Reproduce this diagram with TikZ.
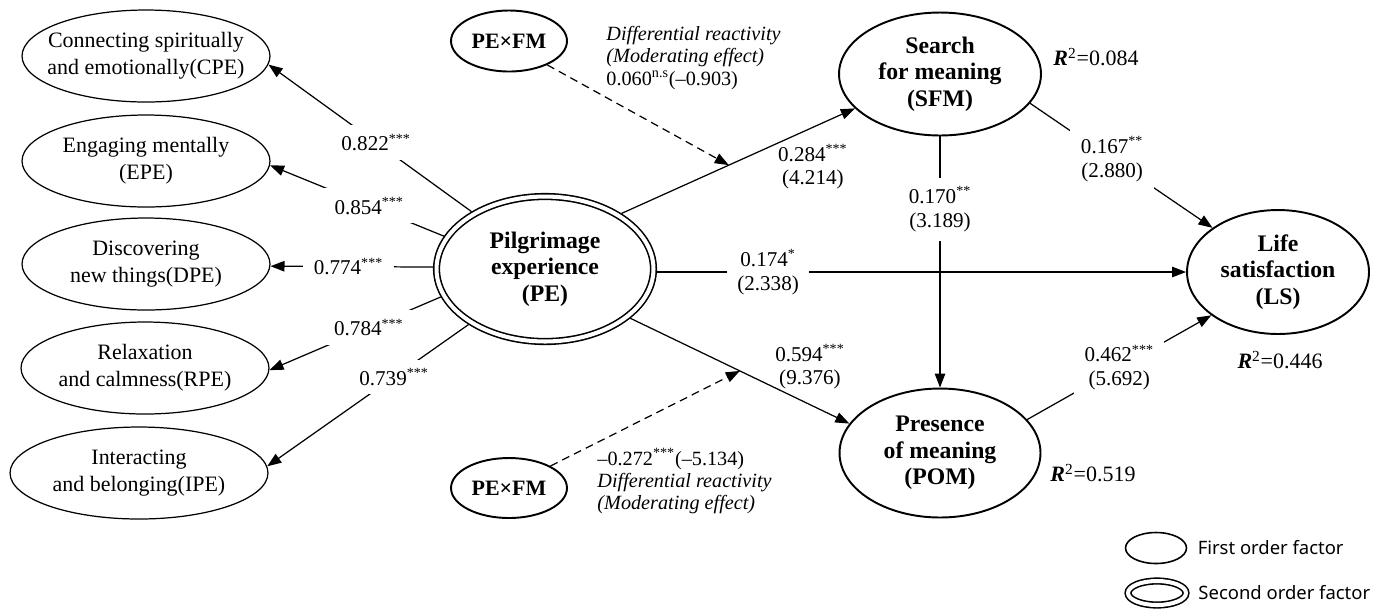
\documentclass[tikz,border=0pt]{standalone}
\usepackage{fontspec}
\setmainfont{Liberation Serif}
\newfontfamily\legendfont{Noto Sans}
\usetikzlibrary{shapes.geometric, arrows.meta, positioning}

\begin{document}
\begin{tikzpicture}[
    x=0.02cm, y=-0.02cm,
    >={Triangle[length=8pt, width=6pt]},
    line width=0.7pt,
    first/.style={draw, ellipse, inner sep=0pt, minimum height=1.84cm},
    latent/.style={draw, ellipse, line width=1.1pt, inner sep=0pt},
    second/.style={draw, ellipse, double, line width=0.9pt, double distance=2.3pt, inner sep=0pt, outer sep=2pt},
    ftxt/.style={align=center, font=\fontsize{12.5}{15.4}\selectfont},
    btxt/.style={align=center, font=\fontsize{13.5}{15}\selectfont\bfseries},
    coef/.style={fill=white, align=center, inner xsep=6pt, inner ysep=5pt, font=\fontsize{12}{13.5}\selectfont},
    est/.style={align=center, font=\fontsize{12}{13.5}\selectfont},
    note/.style={align=left, font=\fontsize{11.5}{12.6}\selectfont},
    mod/.style={->, dash pattern=on 4.5pt off 3pt},
    legtxt/.style={font=\legendfont\fontsize{10.5}{12}\selectfont}
]
    \useasboundingbox (0,0) rectangle (1378,610);

    % First order factors
    \foreach \name/\xpos/\ypos/\ew/\txt in {
        cpe/146/56/4.96/{Connecting spiritually\\and emotionally(CPE)},
        epe/146/161/4.96/{Engaging mentally\\(EPE)},
        dpe/146/264/4.96/{Discovering\\new things(DPE)},
        rpe/145/368/4.96/{Relaxation\\and calmness(RPE)},
        ipe/139/473/5.16/{Interacting\\and belonging(IPE)}} {
        \node[first, minimum width=\ew cm, label={[ftxt]center:\txt}] (\name) at (\xpos,\ypos) {};
    }

    % Second order factor
    \node[second, minimum width=4.34cm, minimum height=2.9cm,
          label={[btxt]center:Pilgrimage\\experience\\(PE)}] (pe) at (545,269) {};

    % Outcome factors
    \node[latent, minimum width=4.04cm, minimum height=2.46cm,
          label={[btxt]center:Search\\for meaning\\(SFM)}] (sfm) at (940,74) {};
    \node[latent, minimum width=4.02cm, minimum height=2.58cm,
          label={[btxt]center:Presence\\of meaning\\(POM)}] (pom) at (940,453) {};
    \node[latent, minimum width=3.64cm, minimum height=2.48cm,
          label={[btxt]center:Life\\satisfaction\\(LS)}] (ls) at (1278,272) {};

    % Interaction terms
    \node[latent, btxt, font=\fontsize{12.5}{15}\selectfont\bfseries, minimum width=2.32cm, minimum height=1.22cm] (fmt) at (509,41) {PE×FM};
    \node[latent, btxt, font=\fontsize{12.5}{15}\selectfont\bfseries, minimum width=2.32cm, minimum height=1.2cm] (fmb) at (509,488) {PE×FM};

    % Loadings
    \foreach \name/\ang/\tip/\val/\p in {cpe/142/-4/0.822/0.47, epe/162/-2/0.854/0.43,
        dpe/179/-1/0.774/0.52, rpe/195/-1/0.784/0.42, ipe/216/3/0.739/0.37} {
        \draw[->] (pe.\ang) -- node[coef, pos=\p] {\val\textsuperscript{***}} (\name.\tip);
    }

    % Structural paths
    \draw[->] (pe.36) -- coordinate[pos=0.46] (mod1)
        node[est, pos=0.82, below=6pt] {0.284\textsuperscript{***}\\(4.214)} (sfm.202);
    \draw[->] (pe.-30) -- coordinate[pos=0.5] (mod2)
        node[est, pos=0.82, above=5pt] {0.594\textsuperscript{***}\\(9.376)} (pom.162);
    \draw[->] (pe.east |- ls.west) -- node[coef, pos=0.21] {0.174\textsuperscript{*}\\(2.338)} (ls.west);
    \draw[->] (sfm.south) -- node[coef, pos=0.29] {0.170\textsuperscript{**}\\(3.189)} (pom.north);
    \draw[->] (sfm.-18) -- node[coef, pos=0.45] {0.167\textsuperscript{**}\\(2.880)} (ls.146);
    \draw[->] (pom.21) -- node[coef, pos=0.5] {0.462\textsuperscript{***}\\(5.692)} (ls.213);

    % Moderating effects
    \draw[mod] (fmt.-32) -- (mod1);
    \draw[mod] (fmb.28) -- (mod2);
    \node[note, anchor=west] (note1) at (600,58)
        {\textit{Differential reactivity}\\\textit{(Moderating effect)}\\0.060\textsuperscript{n.s}(--0.903)};
    \node[note, anchor=west] (note2) at (591,481)
        {--0.272\textsuperscript{***}(--5.134)\\\textit{Differential reactivity}\\\textit{(Moderating effect)}};

    % R squared
    \node[ftxt, anchor=west] (r2sfm) at (1047,57) {\textbf{\textit{R}}\textsuperscript{2}=0.084};
    \node[ftxt] (r2ls) at (1280,360) {\textbf{\textit{R}}\textsuperscript{2}=0.446};
    \node[ftxt, anchor=west] (r2pom) at (1044,473) {\textbf{\textit{R}}\textsuperscript{2}=0.519};

    % Legend
    \node[draw, ellipse, line width=0.9pt, inner sep=0pt, minimum width=1.22cm, minimum height=0.62cm] (leg1) at (1156,548) {};
    \node[legtxt, right=0.08cm of leg1] (leg1txt) {First order factor};
    \node[second, minimum width=1.16cm, minimum height=0.48cm] (leg2) at (1157,593) {};
    \node[legtxt, right=0.05cm of leg2] (leg2txt) {Second order factor};

\end{tikzpicture}
\end{document}
